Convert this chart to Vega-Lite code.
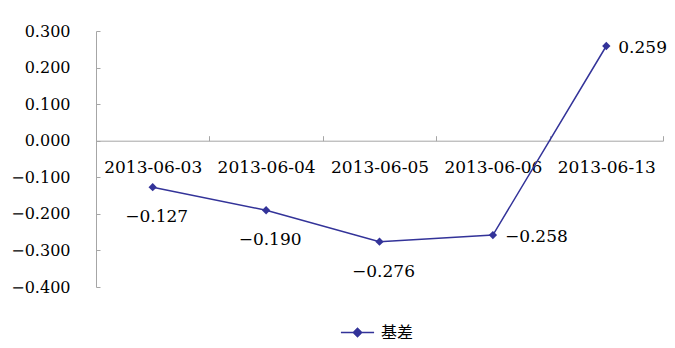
{
  "$schema": "https://vega.github.io/schema/vega-lite/v6.json",
  "width": 567,
  "height": 256,
  "autosize": {"type": "none"},
  "padding": {"left": 96, "top": 31, "right": 12, "bottom": 61},
  "background": "white",
  "config": {
    "view": {"stroke": null},
    "font": "DejaVu Serif",
    "axis": {
      "labelFont": "DejaVu Serif",
      "labelFontSize": 16,
      "labelFontWeight": "normal",
      "labelColor": "#000000",
      "domainColor": "#a6a6a6",
      "tickColor": "#a6a6a6",
      "grid": false,
      "title": null
    }
  },
  "data": {
    "values": [
      {"date": "2013-06-03", "value": -0.127, "series": "基差"},
      {"date": "2013-06-04", "value": -0.190, "series": "基差"},
      {"date": "2013-06-05", "value": -0.276, "series": "基差"},
      {"date": "2013-06-06", "value": -0.258, "series": "基差"},
      {"date": "2013-06-13", "value": 0.259, "series": "基差"}
    ]
  },
  "encoding": {
    "x": {
      "field": "date",
      "type": "ordinal",
      "bandPosition": 0.5,
      "scale": {"type": "band", "paddingInner": 0, "paddingOuter": 0},
      "axis": {
        "orient": "bottom",
        "offset": -146.3,
        "labelAngle": 0,
        "labelFontSize": 17,
        "tickBand": "extent",
        "tickSize": -5,
        "labelPadding": 24,
        "title": null
      }
    },
    "y": {
      "field": "value",
      "type": "quantitative",
      "scale": {"domain": [-0.4, 0.3], "nice": false, "zero": false},
      "axis": {
        "values": [-0.4, -0.3, -0.2, -0.1, 0, 0.1, 0.2, 0.3],
        "format": ".3f",
        "tickSize": -4,
        "labelPadding": 30,
        "title": null
      }
    }
  },
  "layer": [
    {
      "mark": {"type": "line", "color": "#333399", "strokeWidth": 1.5},
      "encoding": {}
    },
    {
      "mark": {"type": "point", "shape": "diamond", "filled": true, "size": 70, "opacity": 1},
      "encoding": {
        "color": {
          "field": "series",
          "type": "nominal",
          "scale": {"range": ["#333399"]},
          "legend": {
            "title": null,
            "orient": "none",
            "legendX": 244,
            "legendY": 284,
            "symbolType": "M-1,0H1M-0.25,0L0,-0.25L0.25,0L0,0.25Z",
            "symbolSize": 1100,
            "symbolStrokeColor": "#333399",
            "symbolFillColor": "#333399",
            "symbolStrokeWidth": 1.5,
            "labelFont": "Noto Sans CJK SC",
            "labelFontSize": 16,
            "labelColor": "#000000",
            "labelOffset": 6
          }
        }
      }
    },
    {
      "transform": [{"filter": "datum.date <= '2013-06-05'"}],
      "mark": {"type": "text", "dx": 4, "dy": 30, "fontSize": 17, "font": "DejaVu Serif", "color": "#000000"},
      "encoding": {"text": {"field": "value", "type": "quantitative", "format": ".3f"}}
    },
    {
      "transform": [{"filter": "datum.date > '2013-06-05'"}],
      "mark": {"type": "text", "align": "left", "dx": 12, "dy": 2, "fontSize": 17, "font": "DejaVu Serif", "color": "#000000"},
      "encoding": {"text": {"field": "value", "type": "quantitative", "format": ".3f"}}
    }
  ]
}
